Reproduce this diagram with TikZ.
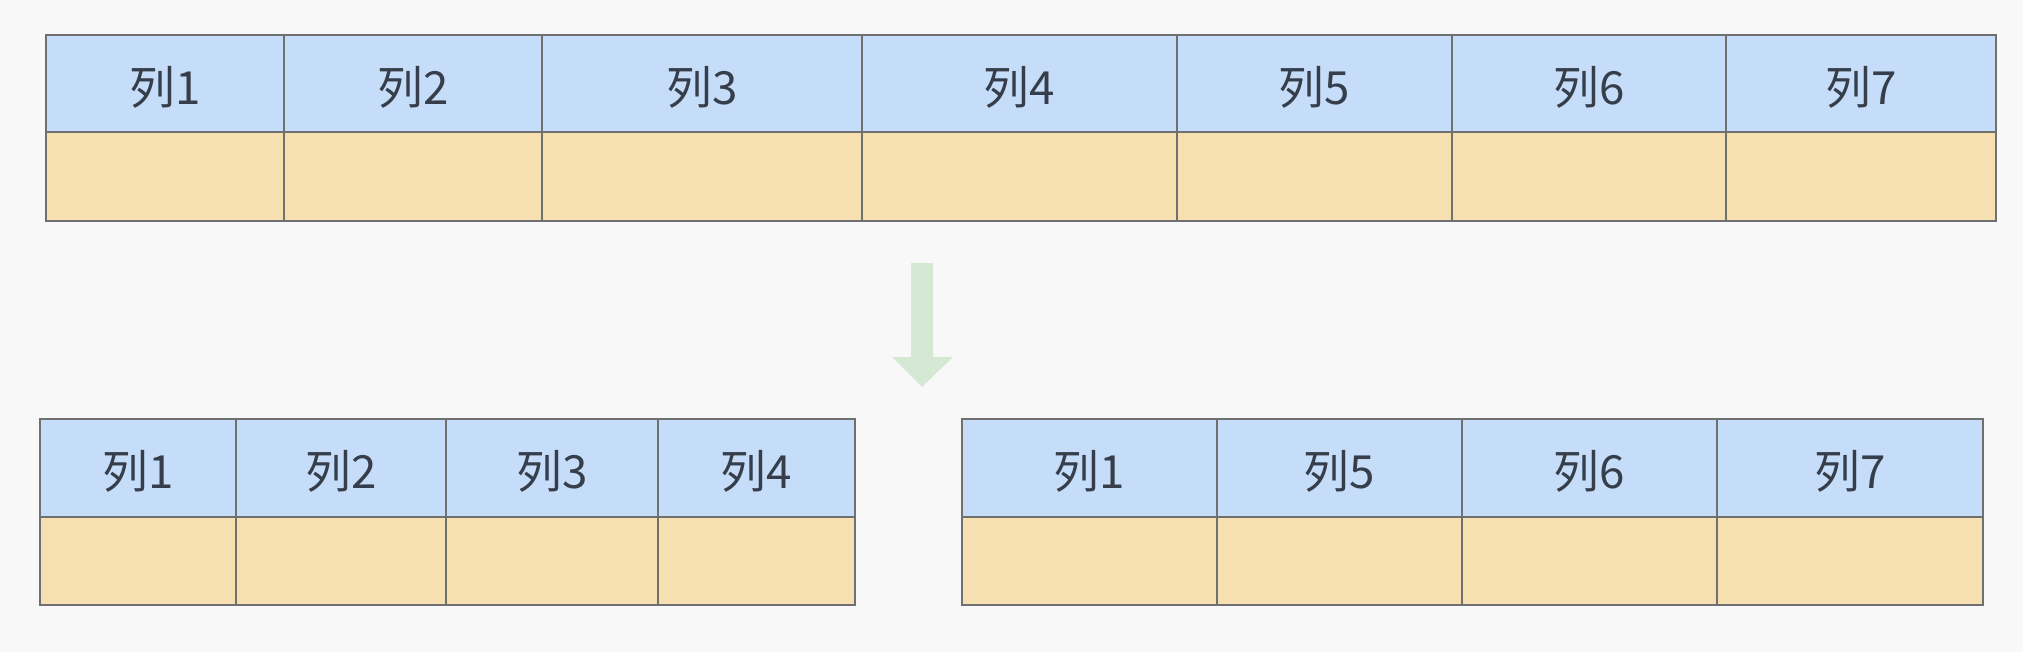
\documentclass[tikz,border=0pt]{standalone}
\usepackage{fontspec}
\newfontfamily\cjk{Noto Sans CJK SC}
\definecolor{bgcol}{HTML}{F8F8F8}
\definecolor{hdrblue}{HTML}{C6DDF9}
\definecolor{cellwheat}{HTML}{F6DFB1}
\definecolor{gridgray}{HTML}{707070}
\definecolor{arrowgreen}{HTML}{D5E8D4}
\definecolor{txtgray}{HTML}{353E4A}
\tikzset{
  hdr/.style={fill=hdrblue,draw=gridgray,line width=0.8pt},
  cellbox/.style={fill=cellwheat,draw=gridgray,line width=0.8pt},
  lbl/.style={font=\cjk\fontsize{26}{30}\selectfont,text=txtgray,inner sep=0pt}
}
\begin{document}
\begin{tikzpicture}[x=0.02cm,y=-0.02cm]
            \fill[bgcol] (0,0) rectangle (2023,652);
            \useasboundingbox (0,0) rectangle (2023,652);
            % original table
            \foreach \l/\r/\t in {46/284/1,284/542/2,542/862/3,862/1177/4,1177/1452/5,1452/1726/6,1726/1996/7}{
              \filldraw[hdr] (\l,35) rectangle (\r,132);
              \filldraw[cellbox] (\l,132) rectangle (\r,221);
              \node[lbl] (top\t) at ({(\l+\r)/2},87) {列\t};
            }
            % split arrow
            \fill[arrowgreen] (911,263)--(933,263)--(933,357)--(953,357)--(922,387)--(892,357)--(911,357)--cycle;
            % left part
            \foreach \l/\r/\t in {40/236/1,236/446/2,446/658/3,658/855/4}{
              \filldraw[hdr] (\l,419) rectangle (\r,517);
              \filldraw[cellbox] (\l,517) rectangle (\r,605);
              \node[lbl] (left\t) at ({(\l+\r)/2},471) {列\t};
            }
            % right part
            \foreach \l/\r/\t in {962/1217/1,1217/1462/5,1462/1717/6,1717/1983/7}{
              \filldraw[hdr] (\l,419) rectangle (\r,517);
              \filldraw[cellbox] (\l,517) rectangle (\r,605);
              \node[lbl] (right\t) at ({(\l+\r)/2},471) {列\t};
            }
\end{tikzpicture}
\end{document}
